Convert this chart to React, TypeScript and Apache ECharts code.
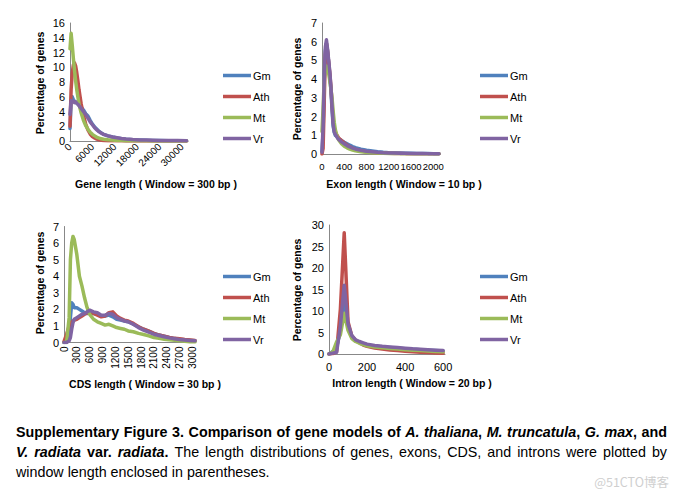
import React, { useEffect, useRef } from "react";
import * as echarts from "echarts";

const SERIES_NAMES = ["Gm", "Ath", "Mt", "Vr"];
const COLORS = ["#4F81BD", "#C0504D", "#9BBB59", "#8064A2"];

// Panel 1: Gene length (window = 300 bp)
const geneX = [0, 300, 600, 900, 1200, 1500, 1800, 2100, 2400, 2700, 3000, 3600, 4200, 4800, 5400, 6000, 6600, 7200, 7800, 8400, 9000, 10200, 11400, 12600, 13800, 15000, 16800, 18600, 20400, 22200, 24000, 26400, 28800, 31200];
const geneGm = [1.7, 5.2, 6.0, 5.6, 5.4, 5.3, 5.2, 5.0, 4.9, 4.8, 4.6, 4.2, 3.7, 3.4, 2.8, 2.3, 1.9, 1.6, 1.3, 1.1, 0.9, 0.7, 0.55, 0.42, 0.32, 0.25, 0.18, 0.13, 0.1, 0.08, 0.07, 0.05, 0.05, 0.04];
const geneAth = [2.0, 7.0, 9.2, 10.3, 10.6, 10.2, 9.3, 8.2, 7.0, 6.0, 5.0, 3.5, 2.3, 1.5, 0.95, 0.6, 0.4, 0.25, 0.15, 0.1, 0.07, 0.04, 0.03, 0.02, 0.02, 0.01, 0.01, 0.01, 0, 0, 0, 0, 0, 0];
const geneMt = [12.5, 14.6, 13.0, 11.2, 9.6, 8.2, 7.0, 6.0, 5.1, 4.4, 3.8, 2.8, 2.1, 1.6, 1.2, 0.9, 0.7, 0.5, 0.4, 0.3, 0.25, 0.17, 0.12, 0.08, 0.06, 0.04, 0.03, 0.02, 0.02, 0.01, 0.01, 0.01, 0, 0];
const geneVr = [3.6, 5.5, 5.3, 5.4, 5.2, 5.3, 5.1, 5.0, 4.8, 4.6, 4.4, 4.0, 3.6, 3.1, 2.6, 2.2, 1.8, 1.5, 1.25, 1.05, 0.9, 0.7, 0.55, 0.45, 0.35, 0.28, 0.2, 0.15, 0.12, 0.1, 0.08, 0.06, 0.06, 0.05];

// Panel 2: Exon length (window = 10 bp)
const exonX = [0, 20, 40, 60, 80, 100, 120, 140, 160, 180, 200, 220, 240, 260, 280, 300, 350, 400, 450, 500, 550, 600, 700, 800, 900, 1000, 1100, 1200, 1300, 1400, 1500, 1600, 1700, 1800, 1900, 2000, 2100];
const exonGm = [0.1, 1.2, 3.8, 5.5, 5.9, 5.5, 4.9, 4.2, 3.4, 2.4, 1.5, 1.15, 1.0, 0.95, 0.88, 0.82, 0.72, 0.63, 0.55, 0.47, 0.4, 0.34, 0.26, 0.2, 0.16, 0.12, 0.09, 0.07, 0.06, 0.05, 0.04, 0.04, 0.03, 0.03, 0.03, 0.02, 0.02];
const exonAth = [0.0, 0.3, 2.8, 5.3, 5.9, 5.5, 4.9, 4.3, 3.6, 2.7, 1.8, 1.4, 1.2, 1.05, 0.95, 0.85, 0.72, 0.6, 0.48, 0.38, 0.3, 0.24, 0.16, 0.11, 0.08, 0.06, 0.05, 0.04, 0.03, 0.03, 0.02, 0.02, 0.02, 0.01, 0.01, 0.01, 0.01];
const exonMt = [1.2, 2.5, 4.0, 4.6, 4.7, 4.6, 4.3, 3.9, 3.5, 3.0, 2.3, 1.7, 1.3, 1.05, 0.88, 0.75, 0.55, 0.42, 0.33, 0.26, 0.21, 0.17, 0.12, 0.09, 0.07, 0.05, 0.04, 0.03, 0.03, 0.02, 0.02, 0.02, 0.01, 0.01, 0.01, 0.01, 0.01];
const exonVr = [0.1, 1.5, 4.0, 5.7, 6.1, 5.6, 5.0, 4.4, 3.6, 2.6, 1.6, 1.2, 1.05, 0.95, 0.85, 0.78, 0.65, 0.55, 0.45, 0.38, 0.32, 0.27, 0.2, 0.15, 0.12, 0.09, 0.07, 0.06, 0.05, 0.04, 0.04, 0.03, 0.03, 0.03, 0.02, 0.02, 0.02];

// Panel 3: CDS length (window = 30 bp)
const cdsX = [0, 60, 120, 150, 180, 210, 240, 300, 360, 420, 480, 540, 600, 690, 780, 870, 960, 1050, 1140, 1230, 1320, 1410, 1500, 1620, 1740, 1860, 1980, 2100, 2220, 2340, 2460, 2580, 2700, 2820, 2940, 3060];
const cdsGm = [0, 0.05, 0.3, 1.5, 2.4, 2.3, 2.1, 2.1, 2.0, 1.9, 1.8, 1.75, 1.8, 1.75, 1.7, 1.6, 1.6, 1.65, 1.55, 1.4, 1.35, 1.3, 1.25, 1.1, 0.95, 0.8, 0.68, 0.55, 0.45, 0.38, 0.3, 0.25, 0.2, 0.16, 0.13, 0.1];
const cdsAth = [0.05, 0.5, 1.0, 1.2, 1.2, 1.3, 1.35, 1.4, 1.5, 1.6, 1.7, 1.8, 1.85, 1.75, 1.65, 1.55, 1.6, 1.8, 1.85, 1.6, 1.45, 1.35, 1.3, 1.15, 0.95, 0.8, 0.68, 0.55, 0.45, 0.38, 0.3, 0.25, 0.22, 0.18, 0.15, 0.12];
const cdsMt = [0, 0, 1.5, 5.0, 6.0, 6.4, 6.2, 5.3, 4.0, 3.4, 2.7, 2.1, 1.7, 1.4, 1.25, 1.15, 1.05, 1.1, 1.0, 0.9, 0.85, 0.8, 0.7, 0.65, 0.55, 0.48, 0.4, 0.3, 0.25, 0.2, 0.17, 0.13, 0.1, 0.07, 0.05, 0.04];
const cdsVr = [0, 0, 0.1, 0.3, 0.8, 1.2, 1.4, 1.5, 1.6, 1.7, 1.75, 1.85, 1.95, 1.85, 1.8, 1.65, 1.65, 1.75, 1.7, 1.5, 1.4, 1.3, 1.25, 1.1, 0.9, 0.75, 0.62, 0.5, 0.42, 0.35, 0.28, 0.22, 0.18, 0.15, 0.12, 0.1];

// Panel 4: Intron length (window = 20 bp)
const intronX = [0, 20, 40, 60, 80, 100, 120, 140, 160, 180, 200, 240, 280, 320, 360, 400, 440, 480, 520, 560, 600];
const intronGm = [0, 0.6, 1.5, 5.5, 12.2, 6.5, 4.0, 3.1, 2.7, 2.4, 2.1, 1.85, 1.65, 1.5, 1.35, 1.2, 1.1, 1.0, 0.9, 0.8, 0.7];
const intronAth = [0, 0.1, 0.5, 10.5, 28.2, 7.5, 4.2, 3.2, 2.6, 2.1, 1.8, 1.4, 1.15, 0.95, 0.8, 0.65, 0.5, 0.4, 0.32, 0.25, 0.2];
const intronMt = [0, 0.5, 2.8, 4.5, 9.5, 5.5, 3.6, 2.9, 2.5, 2.2, 1.9, 1.65, 1.45, 1.3, 1.15, 1.0, 0.9, 0.8, 0.7, 0.6, 0.5];
const intronVr = [0, 0.2, 0.4, 6.5, 16, 7.0, 4.3, 3.3, 2.9, 2.6, 2.3, 2.0, 1.8, 1.65, 1.5, 1.35, 1.2, 1.1, 1.0, 0.9, 0.8];

const X_TITLES = [
  "Gene length ( Window = 300 bp )",
  "Exon length ( Window = 10 bp )",
  "CDS length ( Window = 30 bp )",
  "Intron length ( Window = 20 bp )",
];
const Y_TITLE = "Percentage of genes";

// Caption lines (b = bold, bi = bold italic, n = normal); last flag = justified
const CAPTION_LINES: [string, boolean][] = [
  ["{b|Supplementary Figure 3. Comparison of gene models of }{bi|A. thaliana}{b|, }{bi|M. truncatula}{b|, }{bi|G. max}{b|, and}", true],
  ["{bi|V. radiata}{b| var. }{bi|radiata}{b|.}{n| The length distributions of genes, exons, CDS, and introns were plotted by}", true],
  ["{n|window length enclosed in parentheses.}", false],
];
const WATERMARK = "@51CTO博客";

const FONT = "'Liberation Sans', Arial, sans-serif";
const CAP_SIZE = 14.3;

export default function App() {
  const ref = useRef<HTMLDivElement>(null);

  useEffect(() => {
    if (!ref.current) return;
    const chart = echarts.init(ref.current, null, { renderer: "svg" });

    const panels = [
      { x: geneX, ys: [geneGm, geneAth, geneMt, geneVr], xMax: 31600, xInt: 6000, yMax: 16, yInt: 2, rotate: 45, xFont: 10,
        grid: { left: 70, top: 23, width: 118, height: 118 } },
      { x: exonX, ys: [exonGm, exonAth, exonMt, exonVr], xMax: 2120, xInt: 400, yMax: 7, yInt: 1, rotate: 0, xFont: 9.5,
        grid: { left: 322, top: 23, width: 118, height: 131 } },
      { x: cdsX, ys: [cdsGm, cdsAth, cdsMt, cdsVr], xMax: 3060, xInt: 300, yMax: 7, yInt: 1, rotate: 90, xFont: 10,
        grid: { left: 64, top: 226.5, width: 131, height: 116 } },
      { x: intronX, ys: [intronGm, intronAth, intronMt, intronVr], xMax: 610, xInt: 200, yMax: 30, yInt: 5, rotate: 0, xFont: 11,
        grid: { left: 329, top: 225, width: 116, height: 129 } },
    ];

    const axisLineStyle = { show: true, lineStyle: { color: "#888888", width: 1 } };
    const plain = (v: number) => String(v);

    const grids = panels.map((p) => ({ ...p.grid }));
    const xAxes = panels.map((p, i) => ({
      type: "value",
      gridIndex: i,
      min: 0,
      max: p.xMax,
      interval: p.xInt,
      axisLine: axisLineStyle,
      axisTick: { show: false },
      splitLine: { show: false },
      axisLabel: {
        color: "#000",
        fontFamily: FONT,
        fontSize: p.xFont,
        rotate: p.rotate,
        margin: p.rotate ? 4 : 7,
        showMaxLabel: false,
        formatter: plain,
      },
    }));
    const yAxes = panels.map((p, i) => ({
      type: "value",
      gridIndex: i,
      min: 0,
      max: p.yMax,
      interval: p.yInt,
      axisLine: axisLineStyle,
      axisTick: { show: false },
      splitLine: { show: false },
      axisLabel: { color: "#000", fontFamily: FONT, fontSize: 11, margin: 5, formatter: plain },
    }));

    const series: any[] = [];
    panels.forEach((p, i) => {
      SERIES_NAMES.forEach((name, k) => {
        series.push({
          type: "line",
          name,
          xAxisIndex: i,
          yAxisIndex: i,
          data: p.x.map((xv, j) => [xv, p.ys[k][j]]),
          showSymbol: false,
          symbol: "none",
          lineStyle: { width: 3.5, color: COLORS[k], join: "round", cap: "round" },
          itemStyle: { color: COLORS[k] },
          z: 2 + k,
        });
      });
    });

    const legendPos = [
      { left: 218, top: 65 },
      { left: 475, top: 65 },
      { left: 218, top: 266 },
      { left: 475, top: 266 },
    ];
    const legends = legendPos.map((pos) => ({
      ...pos,
      orient: "vertical",
      data: SERIES_NAMES,
      icon: "rect",
      itemWidth: 28,
      itemHeight: 3.5,
      itemGap: 10,
      textStyle: { color: "#000", fontFamily: FONT, fontSize: 11, padding: [0, 0, 0, -3] },
      selectedMode: false,
    }));

    const xTitlePos = [
      [156, 184],
      [404, 184],
      [145, 384],
      [412, 383],
    ];
    const yTitlePos = [
      [40, 83],
      [297, 89],
      [40, 283],
      [297, 290],
    ];

    const graphics: any[] = [];
    X_TITLES.forEach((t, i) => {
      graphics.push({
        type: "text",
        x: xTitlePos[i][0],
        y: xTitlePos[i][1],
        style: {
          text: t,
          fontFamily: FONT,
          fontSize: 10.5,
          fontWeight: "bold",
          fill: "#000",
          align: "center",
          verticalAlign: "middle",
        },
      });
    });
    yTitlePos.forEach((pos) => {
      graphics.push({
        type: "text",
        x: pos[0],
        y: pos[1],
        rotation: Math.PI / 2,
        style: {
          text: Y_TITLE,
          fontFamily: FONT,
          fontSize: 10.5,
          fontWeight: "bold",
          fill: "#000",
          align: "center",
          verticalAlign: "middle",
        },
      });
    });

    // Caption: measured word by word and justified like the reference
    const styleOf = (s: string) => ({
      bold: s === "b" || s === "bi",
      italic: s === "bi",
    });
    const canvas = document.createElement("canvas");
    const ctx = canvas.getContext("2d")!;
    const measure = (s: string, text: string) => {
      const st = styleOf(s);
      ctx.font = `${st.italic ? "italic " : ""}${st.bold ? "bold " : ""}${CAP_SIZE}px 'Liberation Sans'`;
      return ctx.measureText(text).width;
    };
    const rich = {
      b: { fontFamily: FONT, fontSize: CAP_SIZE, fontWeight: "bold", fill: "#000" },
      bi: { fontFamily: FONT, fontSize: CAP_SIZE, fontWeight: "bold", fontStyle: "italic", fill: "#000" },
      n: { fontFamily: FONT, fontSize: CAP_SIZE, fill: "#000" },
    };
    const capLeft = 16;
    const capRight = 667;
    CAPTION_LINES.forEach(([line, justify], li) => {
      const y = 432 + li * 20;
      const segs: [string, string][] = [];
      const re = /\{(\w+)\|([^}]*)\}/g;
      let m: RegExpExecArray | null;
      while ((m = re.exec(line))) segs.push([m[1], m[2]]);
      const words: [string, string][][] = [];
      let cur: [string, string][] = [];
      segs.forEach(([s, t]) => {
        const parts = t.split(" ");
        parts.forEach((p, pi) => {
          if (pi > 0) {
            if (cur.length) words.push(cur);
            cur = [];
          }
          if (p) cur.push([s, p]);
        });
      });
      if (cur.length) words.push(cur);
      const widths = words.map((w) => w.reduce((a, [s, t]) => a + measure(s, t), 0));
      const total = widths.reduce((a, b) => a + b, 0);
      const gap = justify && words.length > 1 ? (capRight - capLeft - total) / (words.length - 1) : measure("n", " ");
      let x = capLeft;
      words.forEach((w, wi) => {
        graphics.push({
          type: "text",
          x,
          y,
          style: {
            text: w.map(([s, t]) => `{${s}|${t}}`).join(""),
            rich,
            verticalAlign: "middle",
          },
        });
        x += widths[wi] + gap;
      });
    });

    graphics.push({
      type: "text",
      x: 669,
      y: 481,
      style: {
        text: WATERMARK,
        fontFamily: "'Noto Sans CJK SC', 'Liberation Sans', sans-serif",
        fontSize: 12.5,
        fill: "#cfcfcf",
        align: "right",
        verticalAlign: "middle",
      },
    });

    chart.setOption({
      animation: false,
      backgroundColor: "#ffffff",
      grid: grids,
      xAxis: xAxes,
      yAxis: yAxes,
      legend: legends,
      series,
      graphic: graphics,
    });

    return () => chart.dispose();
  }, []);

  return (
    <div
      ref={ref}
      style={{ position: "absolute", left: 0, top: 0, width: 694, height: 495, background: "#fff" }}
    />
  );
}
